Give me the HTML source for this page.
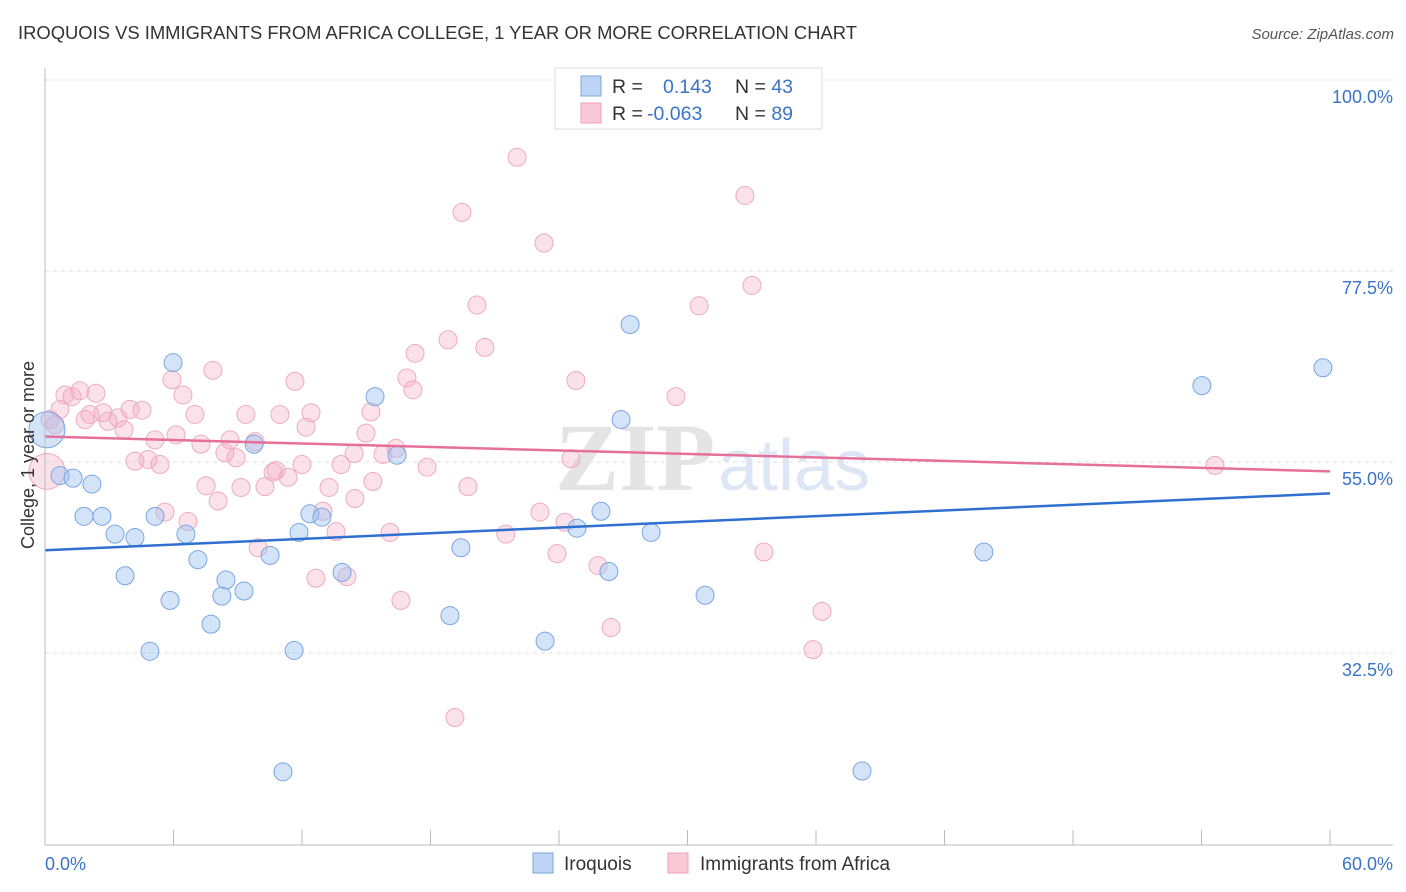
<!DOCTYPE html>
<html><head><meta charset="utf-8"><style>
body{margin:0;background:#fff;font-family:"Liberation Sans",sans-serif}
svg{display:block}
</style></head><body>
<svg id="chart" width="1406" height="892" xmlns="http://www.w3.org/2000/svg">
<text x="18" y="39" font-size="18.4" fill="#333">IROQUOIS VS IMMIGRANTS FROM AFRICA COLLEGE, 1 YEAR OR MORE CORRELATION CHART</text>
<text x="1394" y="39" font-size="15" fill="#555" text-anchor="end" font-style="italic">Source: ZipAtlas.com</text>
<g id="grid"></g>
<text x="555" y="490" font-size="96" fill="#e4e4e4" font-family="Liberation Serif" font-weight="bold">ZIP</text>
<text x="718" y="490" font-size="72" fill="#dce6f4">atlas</text>
<g id="pts"></g>
<g id="trends"></g>
<g id="axes"></g>
<text x="34" y="455" font-size="18" fill="#333" text-anchor="middle" transform="rotate(-90 34 455)">College, 1 year or more</text>
<text x="45" y="870" font-size="18" fill="#3b73c8">0.0%</text>
<text x="1393" y="870" font-size="18" fill="#3b73c8" text-anchor="end">60.0%</text>
<g>
<rect x="555" y="68" width="267" height="61" fill="#fff" stroke="#ddd"/>
<rect x="581" y="76" width="20" height="20" fill="#bcd4f5" stroke="#7aa6e0"/>
<rect x="581" y="103" width="20" height="20" fill="#f9c9d8" stroke="#eea0b9"/>
<text x="612" y="93" font-size="19.5" fill="#333">R = <tspan fill="#3b73c8" x="663">0.143</tspan><tspan x="735">N = </tspan><tspan fill="#3b73c8">43</tspan></text>
<text x="612" y="120" font-size="19.5" fill="#333">R = <tspan fill="#3b73c8" x="647">-0.063</tspan><tspan x="735">N = </tspan><tspan fill="#3b73c8">89</tspan></text>
</g>
<g>
<rect x="533" y="853" width="20" height="20" fill="#bcd4f5" stroke="#7aa6e0"/>
<text x="564" y="870" font-size="19" fill="#333">Iroquois</text>
<rect x="668" y="853" width="20" height="20" fill="#f9c9d8" stroke="#eea0b9"/>
<text x="700" y="870" font-size="19" fill="#333">Immigrants from Africa</text>
</g>
</svg>
<script>
const yTicks=[100,77.5,55,32.5];
const yTickLabels=["100.0%","77.5%","55.0%","32.5%"];
const xTicks=[0,6,12,18,24,30,36,42,48,54,60];
const blueX=[0.09,0.70,1.31,2.19,1.82,2.66,3.27,4.20,5.14,3.74,5.98,6.58,7.14,5.84,4.90,7.75,8.45,8.26,9.29,9.76,10.51,11.11,11.63,11.86,12.37,12.93,13.87,15.41,16.44,18.91,19.42,23.35,24.84,25.96,26.33,26.90,27.32,28.30,30.82,38.15,43.84,54.02,59.67];
const blueY=[58.8,53.4,53.1,52.4,48.6,48.6,46.5,46.1,48.6,41.6,66.7,46.5,43.5,38.7,32.7,35.9,41.1,39.2,39.8,57.1,44.0,18.5,32.8,46.7,48.9,48.5,42.0,62.7,55.8,36.9,44.9,33.9,47.2,49.2,42.1,60.0,71.2,46.7,39.3,18.6,44.4,64.0,66.1];
const pinkX=[0.09,0.47,0.70,0.93,1.26,1.63,2.38,1.87,2.10,2.71,2.94,3.41,3.69,3.97,4.53,4.20,4.81,5.14,5.37,5.60,5.93,6.12,6.44,6.68,7.00,7.28,7.52,7.84,8.08,8.40,8.64,8.92,9.15,9.38,9.81,9.95,10.27,10.65,10.97,10.79,11.35,11.67,12.19,12.00,12.42,12.65,12.98,13.26,13.59,13.82,14.10,14.43,14.47,14.99,15.22,15.31,15.78,16.11,16.39,16.62,16.90,17.18,17.28,17.84,18.82,19.14,19.47,19.75,20.17,20.54,21.52,22.04,23.11,23.30,23.91,24.28,24.56,24.79,25.82,26.43,29.46,30.54,32.68,33.01,33.57,35.86,36.28,54.63,0.23];
const pinkY=[53.9,59.4,61.2,62.9,62.7,63.4,63.1,60.0,60.6,60.8,59.8,60.2,58.8,61.2,61.1,55.1,55.3,57.6,54.7,49.1,64.7,58.2,62.9,48.0,60.6,57.1,52.2,65.8,50.4,56.1,57.6,55.5,52.0,60.6,57.4,44.9,52.1,53.8,60.6,54.0,53.2,64.5,59.1,54.7,60.8,41.3,49.2,52.0,46.8,54.7,41.5,56.0,50.7,58.4,60.9,52.7,55.9,46.7,56.6,38.7,64.9,63.5,67.8,54.4,69.4,24.9,84.4,52.1,73.5,68.5,46.5,90.9,49.1,80.8,44.2,47.9,55.4,64.6,42.8,35.5,62.7,73.4,86.4,75.8,44.4,32.9,37.4,54.6,60.0];
const blueTrend=[44.6,51.3];
const pinkTrend=[58.0,53.9];
const NS="http://www.w3.org/2000/svg";
const xs=v=>45+v/60*1285;
const ys=v=>80+(100-v)*191/22.5;
function mk(tag,attrs,parent){const e=document.createElementNS(NS,tag);for(const k in attrs)e.setAttribute(k,attrs[k]);parent.appendChild(e);return e;}
const grid=document.getElementById('grid');
yTicks.forEach((t,i)=>{
  const l=mk('line',{x1:45,x2:1393,y1:ys(t),y2:ys(t),stroke:'#ddd','stroke-dasharray':'4,4'},grid);
  
  
  const tx=mk('text',{x:1393,y:ys(t)+23,'font-size':18,fill:'#3b73c8','text-anchor':'end'},grid);
  tx.textContent=yTickLabels[i];
  
  
});
const axes=document.getElementById('axes');
mk('line',{x1:45,x2:45,y1:68,y2:845,stroke:'#bbb'},axes);
mk('line',{x1:45,x2:1393,y1:845,y2:845,stroke:'#bbb'},axes);
xTicks.forEach(t=>{const l=mk('line',{x1:xs(t),x2:xs(t),y1:830,y2:845,stroke:'#bbb'},axes);
  
  });
const pts=document.getElementById('pts');
function draw(X,Y,fill,stroke,name){X.forEach((x,i)=>{
  const big=(i===0&&x<0.2);
  const c=mk('circle',{cx:xs(x),cy:ys(Y[i]),r:big?18:9,fill:fill,stroke:stroke,'stroke-width':1},pts);
  
  
});}
draw(pinkX,pinkY,'rgba(244,170,196,0.35)','#efaac0','africa-point');
draw(blueX,blueY,'rgba(160,196,240,0.45)','#7aa6e2','iroquois-point');
const tr=document.getElementById('trends');
const b=mk('line',{x1:xs(0),x2:xs(60),y1:ys(blueTrend[0]),y2:ys(blueTrend[1]),stroke:'#2f6fd0','stroke-width':2.5},tr);


const p=mk('line',{x1:xs(0),x2:xs(60),y1:ys(pinkTrend[0]),y2:ys(pinkTrend[1]),stroke:'#e5709a','stroke-width':2.5},tr);


</script>
</body></html>
